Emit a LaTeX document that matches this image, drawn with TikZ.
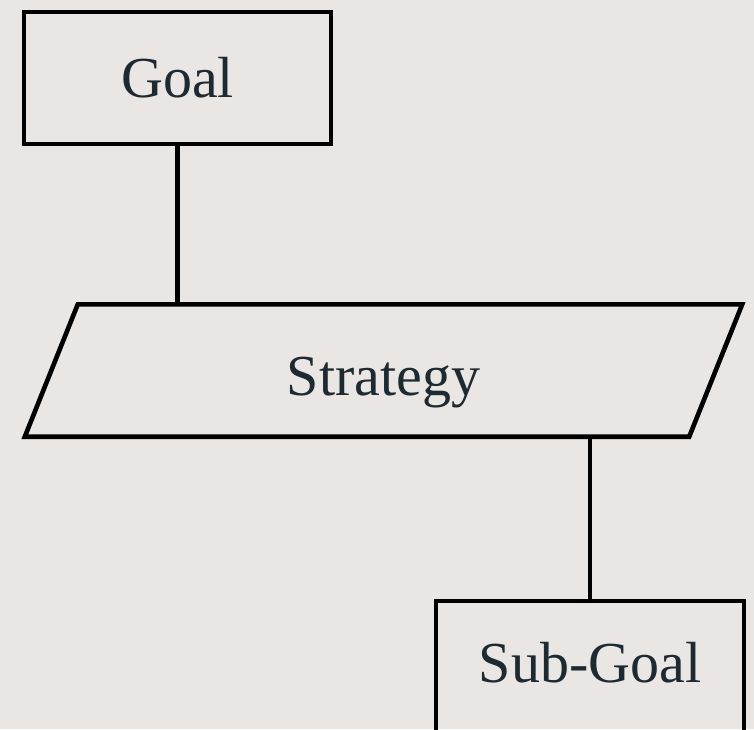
\documentclass[tikz,border=0pt]{standalone}
\usepackage{fontspec}
\setmainfont{Liberation Serif}
\usetikzlibrary{calc}
\definecolor{bgc}{HTML}{E9E6E3}
\definecolor{txtc}{HTML}{1E2A32}
\begin{document}
\begin{tikzpicture}[x=1pt,y=-1pt,
  boxstyle/.style={draw=black,line width=4.6pt,rectangle,inner sep=0pt,
    font=\fontsize{58}{60}\selectfont,text=txtc},
  linkstyle/.style={draw=black,line width=4.6pt}]
  \fill[bgc] (0,0) rectangle (754,729);
  \clip (0,0) rectangle (754,729);
  \node[boxstyle,minimum width=307pt,minimum height=132pt] (goal) at (177.5,78) {Goal};
  \node[rectangle,inner sep=0pt,minimum width=664pt,text height=90.5pt,text depth=41.5pt,
    font=\fontsize{58}{60}\selectfont,text=txtc,anchor=base] (strategy) at (383.5,395) {Strategy};
  \draw[linkstyle,line join=miter]
    ($(strategy.north west)+(26.5,0)$) -- ($(strategy.north east)+(26.5,0)$)
    -- ($(strategy.south east)+(-26.5,0)$) -- ($(strategy.south west)+(-26.5,0)$) -- cycle;
  \node[boxstyle,minimum width=308pt,text height=81pt,text depth=70pt,anchor=base] (subgoal) at (590,682) {Sub-Goal};
  \draw[linkstyle] (goal.south) -- (goal.south |- strategy.north);
  \draw[linkstyle] (subgoal.north) -- (subgoal.north |- strategy.south);
\end{tikzpicture}
\end{document}
